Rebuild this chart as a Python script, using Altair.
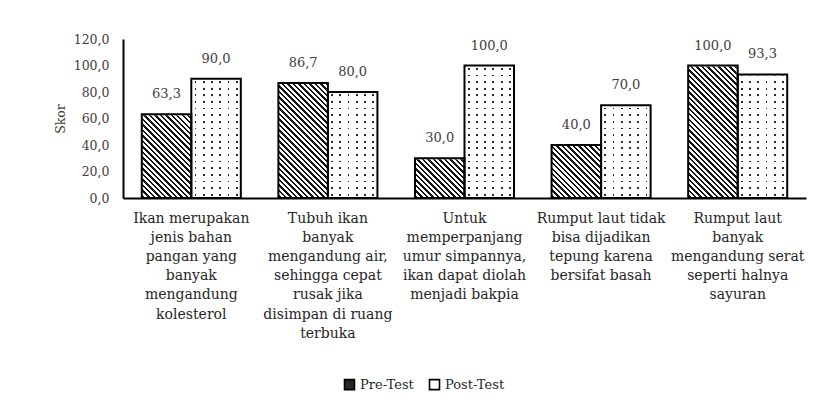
import math
import altair as alt
import pandas as pd

# ---------------- data ----------------
CATEGORY_LINES = [
    ["Ikan merupakan", "jenis bahan", "pangan yang", "banyak", "mengandung", "kolesterol"],
    ["Tubuh ikan", "banyak", "mengandung air,", "sehingga cepat", "rusak jika", "disimpan di ruang", "terbuka"],
    ["Untuk", "memperpanjang", "umur simpannya,", "ikan dapat diolah", "menjadi bakpia"],
    ["Rumput laut tidak", "bisa dijadikan", "tepung karena", "bersifat basah"],
    ["Rumput laut", "banyak", "mengandung serat", "seperti halnya", "sayuran"],
]
CATEGORIES = ["|".join(lines) for lines in CATEGORY_LINES]
SERIES = ["Pre-Test", "Post-Test"]
PRE_TEST = [63.3, 86.7, 30.0, 40.0, 100.0]
POST_TEST = [90.0, 80.0, 100.0, 70.0, 93.3]
Y_TICKS = [0, 20, 40, 60, 80, 100, 120]

rows = []
for cat, pre, post in zip(CATEGORIES, PRE_TEST, POST_TEST):
    rows.append({"category": cat, "series": SERIES[0], "value": pre})
    rows.append({"category": cat, "series": SERIES[1], "value": post})
df = pd.DataFrame(rows)

# ---------------- layout / style ----------------
PLOT_W, PLOT_H = 683, 159
PAD_INNER = 0.275
BAR_W = PLOT_W / len(CATEGORIES) * (1 - PAD_INNER) / len(SERIES)
FONT = "DejaVu Serif"
TEXT = "#404040"


def stripes(n, frac, ink, paper):
    """hard-edged repeating stripes: ink centred in each period"""
    stops = []
    for k in range(n):
        a = k / n
        p = (k + (1 - frac) / 2) / n
        q = (k + (1 + frac) / 2) / n
        e = min((k + 1) / n, 1.0)
        stops += [
            {"offset": a, "color": paper},
            {"offset": p, "color": paper},
            {"offset": p, "color": ink},
            {"offset": q, "color": ink},
            {"offset": q, "color": paper},
            {"offset": e, "color": paper},
        ]
    return stops


# diagonal "\" hatch at 45 degrees for a bar of BAR_W x PLOT_H px
w, h = BAR_W, PLOT_H
cc = (w + h) / (w * w + h * h)
n_hatch = round((w + h) / (math.sqrt(2) * 3.9))
HATCH = {"gradient": "linear", "x1": 0, "y1": 1, "x2": cc * w, "y2": 1 - cc * h,
         "stops": stripes(n_hatch, 0.45, "#141414", "#ffffff")}
DOT_COLS = {"gradient": "linear", "x1": 0, "y1": 0, "x2": 1, "y2": 0,
            "stops": stripes(6, 1.8 / 8.25, "#2a2a2a", "#ffffff")}
DOT_ROWS = {"gradient": "linear", "x1": 0, "y1": 0, "x2": 0, "y2": 1,
            "stops": stripes(24, 1.8 / 6.6, "rgba(255,255,255,0)", "#ffffff")}

x_axis = alt.Axis(
    labelExpr="split(datum.label, '|')", labelAngle=0, labelAlign="center",
    labelBaseline="top", labelLineHeight=19.2, labelFontSize=14, labelColor="#262626",
    labelPadding=13, labelLimit=300, ticks=False, domainColor="#000000", domainWidth=2,
    title=None, zindex=1,
)
y_axis = alt.Axis(
    values=Y_TICKS, labelExpr="replace(format(datum.value, '.1f'), '.', ',')",
    labelFontSize=12.5, labelColor=TEXT, labelPadding=14, ticks=False, grid=False,
    domainColor="#000000", domainWidth=2, title="Skor", titleFontSize=12.5,
    titleFontWeight="normal", titleColor=TEXT, titlePadding=6,
)
x_scale = alt.Scale(domain=CATEGORIES, paddingInner=PAD_INNER, paddingOuter=PAD_INNER / 2)
y_scale = alt.Scale(domain=[Y_TICKS[0], Y_TICKS[-1]], nice=False, zero=True)

X = alt.X("category:N", scale=x_scale, sort=None, axis=x_axis)
XO = alt.XOffset("series:N", scale=alt.Scale(domain=SERIES, paddingInner=0, paddingOuter=0))


def Y(field):
    return alt.Y(field, type="quantitative", scale=y_scale, axis=y_axis)


base = alt.Chart(df).transform_calculate(top=str(Y_TICKS[-1]), bottom=str(Y_TICKS[0]))

hatch = base.transform_filter(alt.datum.series == SERIES[0]).mark_bar(fill=HATCH, strokeWidth=0).encode(
    x=X, xOffset=XO, y=Y("top"), y2=alt.Y2("bottom"))
dot_cols = base.transform_filter(alt.datum.series == SERIES[1]).mark_bar(fill=DOT_COLS, strokeWidth=0).encode(
    x=X, xOffset=XO, y=Y("top"), y2=alt.Y2("bottom"))
dot_rows = base.transform_filter(alt.datum.series == SERIES[1]).mark_bar(fill=DOT_ROWS, strokeWidth=0).encode(
    x=X, xOffset=XO, y=Y("top"), y2=alt.Y2("bottom"))
cover = base.mark_bar(fill="#ffffff", stroke="#ffffff", strokeWidth=2).encode(
    x=X, xOffset=XO, y=Y("value"), y2=alt.Y2("top"))
outline = base.mark_bar(fillOpacity=0, stroke="#000000", strokeWidth=2).encode(
    x=X, xOffset=XO, y=Y("value"))
labels = base.transform_calculate(
    lbl="replace(format(datum.value, '.1f'), '.', ',')"
).mark_text(fontSize=13, color=TEXT, dy=-16, baseline="alphabetic").encode(
    x=X, xOffset=XO, y=Y("value"), text="lbl:N")
legend_layer = base.transform_filter("false").mark_square().encode(
    x=X, xOffset=XO, y=Y("value"),
    color=alt.Color("series:N", scale=alt.Scale(domain=SERIES, range=["#262626", "#ffffff"]),
                    legend=alt.Legend(
                        orient="none", legendX=220, legendY=339, direction="horizontal",
                        title=None, symbolType="square", symbolSize=100,
                        symbolStrokeColor="#000000", symbolStrokeWidth=1.6, symbolOpacity=1,
                        labelFontSize=13, labelColor="#262626", labelOffset=4,
                        columnPadding=12)),
)

chart = alt.layer(hatch, dot_cols, dot_rows, cover, outline, labels, legend_layer).properties(
    width=PLOT_W, height=PLOT_H,
    autosize=alt.AutoSizeParams(type="none"),
    padding={"left": 115, "top": 31, "right": 7, "bottom": 205},
).configure(font=FONT).configure_view(strokeWidth=0)

chart.save("out.html", embed_options={"renderer": "svg", "actions": False})
